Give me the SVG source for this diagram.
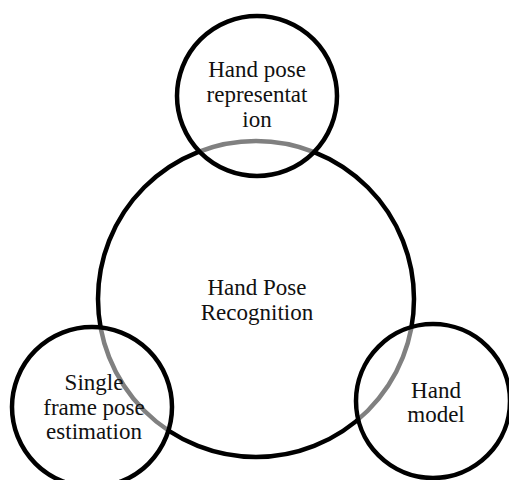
<svg xmlns="http://www.w3.org/2000/svg" width="509" height="480" viewBox="0 0 509 480">
<style>
.c{stroke:#000;stroke-width:4.5}
.big{fill:#fff}
.small{fill:#fff;fill-opacity:0.5}
text{font-family:"Liberation Serif","Times New Roman",serif;font-size:23px;fill:#111;text-anchor:middle}
</style>
<rect width="509" height="480" fill="#fff"/>
<g id="recognition">
<circle class="c big" cx="256" cy="299" r="158"/>
</g>
<g id="representation">
<circle class="c small" cx="257" cy="96" r="80"/>
<text x="257" y="77">Hand pose</text>
<text x="257" y="102">representat</text>
<text x="257" y="127">ion</text>
</g>
<g id="single-frame">
<circle class="c small" cx="92" cy="407" r="80"/>
<text x="94" y="390">Single</text>
<text x="94" y="415">frame pose</text>
<text x="94" y="439">estimation</text>
</g>
<g id="hand-model">
<circle class="c small" cx="433" cy="401" r="77"/>
<text x="436" y="398">Hand</text>
<text x="436" y="422">model</text>
</g>
<g id="recognition-label">
<text x="257" y="295">Hand Pose</text>
<text x="257" y="320">Recognition</text>
</g>
<g id="connectors"/>
</svg>
